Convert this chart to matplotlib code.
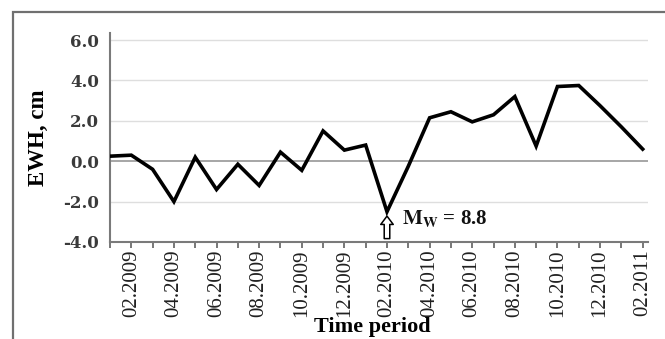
import numpy as np
import matplotlib
matplotlib.use("Agg")
import matplotlib.pyplot as plt
from matplotlib.patches import Rectangle

# monthly EWH anomalies, 01.2009 .. 02.2011
months = ["01.2009", "02.2009", "03.2009", "04.2009", "05.2009", "06.2009",
          "07.2009", "08.2009", "09.2009", "10.2009", "11.2009", "12.2009",
          "01.2010", "02.2010", "03.2010", "04.2010", "05.2010", "06.2010",
          "07.2010", "08.2010", "09.2010", "10.2010", "11.2010", "12.2010",
          "01.2011", "02.2011"]
ewh = [0.25, 0.3, -0.4, -2.0, 0.2, -1.4, -0.15, -1.2, 0.45, -0.45, 1.5, 0.55,
       0.8, -2.5, -0.25, 2.15, 2.45, 1.95, 2.3, 3.2, 0.75, 3.7, 3.75, 2.75,
       1.7, 0.6]
yticks = [-4.0, -2.0, 0.0, 2.0, 4.0, 6.0]
quake_month = "02.2010"
quake_mag = 8.8

plt.rcParams["mathtext.fontset"] = "stix"

x = np.arange(len(months))

fig = plt.figure(figsize=(6.65, 3.39), dpi=100)
ax = fig.add_axes([110 / 665, 1 - 242 / 339, 538 / 665, 209 / 339])

# grid: light lines, darker zero line
for v in yticks:
    if v == 0.0:
        ax.axhline(v, color="#a6a6a6", lw=1.4, zorder=1)
    elif v > -4.0:
        ax.axhline(v, color="#dedede", lw=1.0, zorder=1)

ax.plot(x, ewh, color="black", lw=2.6, solid_joinstyle="miter", zorder=3)

ax.set_xlim(0, len(months) - 0.75)
ax.set_ylim(-4.0, 6.35)

ax.set_yticks(yticks)
ax.set_yticklabels([f"{v:.1f}" for v in yticks], family="DejaVu Serif",
                   fontsize=12, fontweight="bold", color="#3a3a3a")
ax.tick_params(axis="y", length=0, pad=8)

ax.set_xticks(x, minor=True)
ax.set_xticks(x[1::2])
ax.set_xticklabels(months[1::2], rotation=90, family="Liberation Serif",
                   fontsize=15, color="#202020")
ax.tick_params(axis="x", which="both", direction="out", length=4,
               width=1.2, color="#606060", pad=1.5)

for side in ["top", "right"]:
    ax.spines[side].set_visible(False)
for side in ["left", "bottom"]:
    ax.spines[side].set_color("#7a7a7a")
    ax.spines[side].set_linewidth(1.5)

ax.set_ylabel("EWH, cm", family="Liberation Serif", fontsize=16.5,
              fontweight="bold", labelpad=10)
fig.text(372 / 665, 1 - 327 / 339, "Time period", family="Liberation Serif",
         fontsize=16, fontweight="bold", ha="center", va="center")

# earthquake marker
qi = months.index(quake_month)
ax.annotate("", xy=(qi, ewh[qi] - 0.08), xytext=(qi, -3.97),
            arrowprops=dict(arrowstyle="simple,head_width=0.9,head_length=0.6,tail_width=0.4",
                            fc="white", ec="black", lw=1.1),
            zorder=4)
ax.text(qi + 0.7, -2.85, r"$\mathbf{M_W}$ = %.1f" % quake_mag,
        family="Liberation Serif", fontweight="bold",
        fontsize=15, va="center", ha="left", color="#111111")

# outer frame
fig.add_artist(Rectangle((13 / 665, -1.0), 2.0, 1.0 + (1 - 12 / 339),
                         transform=fig.transFigure, fill=False,
                         ec="#707070", lw=1.6, clip_on=False))

fig.savefig("out.png", dpi=100)
